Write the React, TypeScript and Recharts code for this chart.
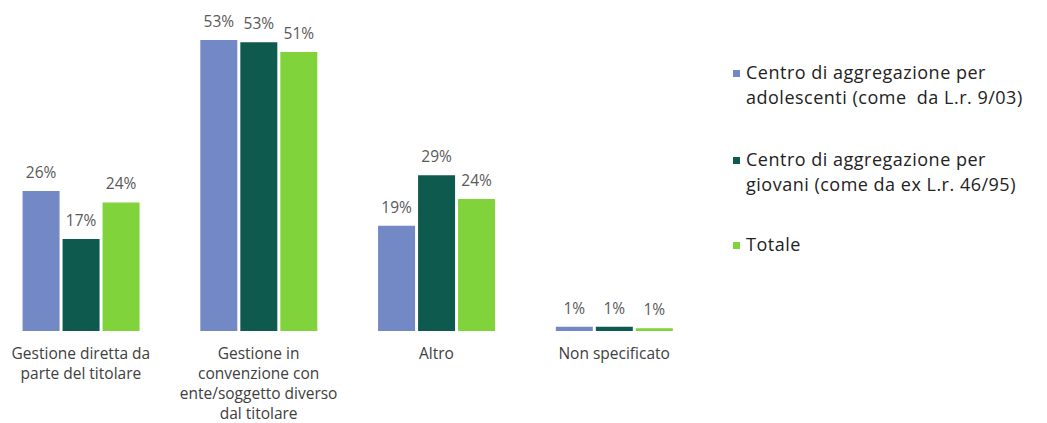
import { BarChart, Bar, XAxis, YAxis, LabelList } from 'recharts';

const categories = [
  'Gestione diretta da\nparte del titolare',
  'Gestione in\nconvenzione con\nente/soggetto diverso\ndal titolare',
  'Altro',
  'Non specificato',
];

const adolescenti = [25.7, 53.4, 19.3, 0.8];
const giovani = [16.9, 53.0, 28.6, 0.8];
const totale = [23.6, 51.2, 24.2, 0.5];

const SERIES = [
  { key: 'adolescenti', color: '#7389C6', lines: ['Centro di aggregazione per', 'adolescenti (come  da L.r. 9/03)'] },
  { key: 'giovani', color: '#0E5A4F', lines: ['Centro di aggregazione per', 'giovani (come da ex L.r. 46/95)'] },
  { key: 'totale', color: '#80D33B', lines: ['Totale'] },
];

const data = categories.map((name, i) => ({
  name,
  adolescenti: adolescenti[i],
  giovani: giovani[i],
  totale: totale[i],
}));

const FONT = '"Open Sans", sans-serif';

const CategoryTick = ({ x, y, payload }: any) => {
  const lines = String(payload.value).split('\n');
  return (
    <text x={x} y={y} textAnchor="middle" fontFamily={FONT} fontSize={15.5} fill="#404040">
      {lines.map((line, i) => (
        <tspan key={i} x={x} dy={20}>
          {line}
        </tspan>
      ))}
    </text>
  );
};

const legendTops = [60, 147, 232];

const App = () => {
  return (
    <div style={{ position: 'relative', left: -8, top: -8, width: 1047, height: 423, background: '#fff' }}>
      <div style={{ position: 'absolute', left: -8, top: 0 }}>
        <BarChart
          width={711}
          height={423}
          data={data}
          margin={{ top: 4, right: 0, bottom: 0, left: 0 }}
          barCategoryGap="17.2%"
          barGap={3}
        >
          <XAxis dataKey="name" axisLine={false} tickLine={false} height={92} interval={0} tick={<CategoryTick />} />
          <YAxis hide domain={[0, 60]} />
          {SERIES.map((s) => (
            <Bar key={s.key} dataKey={s.key} fill={s.color} isAnimationActive={false}>
              <LabelList
                dataKey={s.key}
                position="top"
                offset={13}
                formatter={(v: any) => `${Math.round(Number(v))}%`}
                style={{ fontFamily: FONT, fontSize: 15.5, fill: '#595959' }}
              />
            </Bar>
          ))}
        </BarChart>
      </div>
      {SERIES.map((s, i) => (
        <div
          key={s.key}
          style={{
            position: 'absolute',
            left: 733,
            top: legendTops[i],
            fontFamily: FONT,
            fontSize: 18,
            letterSpacing: 0.5,
            lineHeight: '25px',
            color: '#222',
            whiteSpace: 'pre',
          }}
        >
          <span
            style={{
              position: 'absolute',
              left: 0,
              top: 10,
              width: 7,
              height: 7,
              background: s.color,
            }}
          />
          <div style={{ marginLeft: 13 }}>
            {s.lines.map((l, j) => (
              <div key={j}>{l}</div>
            ))}
          </div>
        </div>
      ))}
    </div>
  );
};

export default App;
